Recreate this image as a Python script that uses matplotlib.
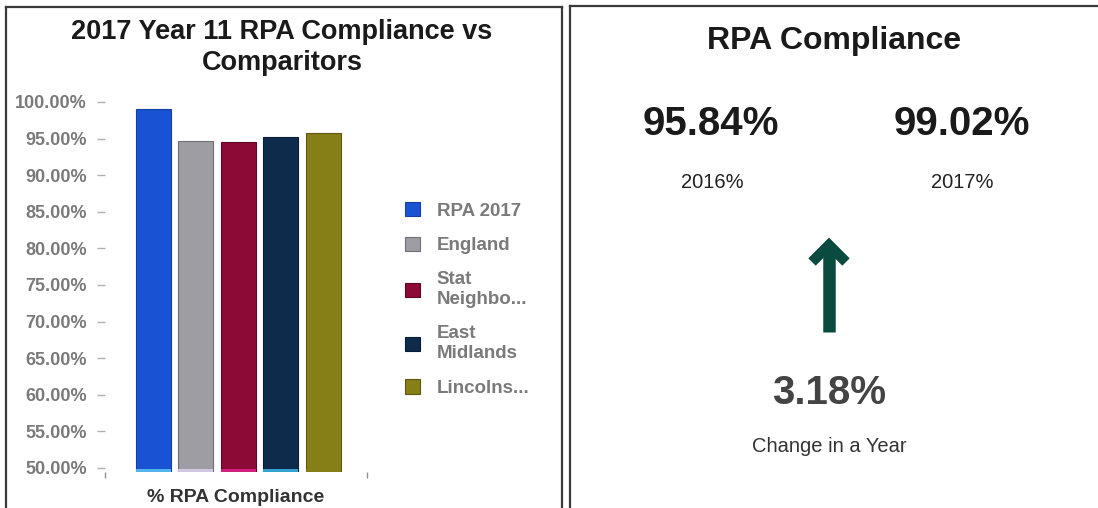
import matplotlib
matplotlib.use("Agg")
import matplotlib.pyplot as plt
from matplotlib.lines import Line2D

plt.rcParams['font.family'] = ['Liberation Sans', 'DejaVu Sans']

# ---- data ----
categories = ["RPA 2017", "England", "Stat\nNeighbo...", "East\nMidlands", "Lincolns..."]
values = [99.02, 94.67, 94.53, 95.26, 95.7]
bar_colors = ["#1a52d4", "#9e9da3", "#8c0b36", "#0f2b4c", "#867e17"]
edge_colors = ["#1340a8", "#6f6e74", "#5e0624", "#0a1c33", "#5e5810"]
base_tints = ["#5ec8f0", "#d8d0ec", "#e0248a", "#3cb8e8", "#867e17"]
yticks = [50, 55, 60, 65, 70, 75, 80, 85, 90, 95, 100]
ytick_labels = ["%.2f%%" % t for t in yticks]

kpi_title = "RPA Compliance"
kpi_2016 = 95.84
kpi_2017 = 99.02
kpi_labels = ["2016%", "2017%"]
kpi_change = 3.18
kpi_change_label = "Change in a Year"

W, H = 1098, 508
fig = plt.figure(figsize=(W / 100, H / 100), dpi=100)

def fx(px):
    return px / W

def fy(py):
    return 1 - py / H

# ---- panel frames ----
frame_kw = dict(color="#3a3a3a", lw=1.6, transform=fig.transFigure)
fig.add_artist(Line2D([fx(6), fx(6)], [fy(7), fy(510)], **frame_kw))
fig.add_artist(Line2D([fx(6), fx(562)], [fy(7), fy(7)], **frame_kw))
fig.add_artist(Line2D([fx(562), fx(562)], [fy(7), fy(510)], **frame_kw))
fig.add_artist(Line2D([fx(570), fx(570)], [fy(6), fy(510)], **frame_kw))
fig.add_artist(Line2D([fx(570), fx(1100)], [fy(6), fy(6)], **frame_kw))

# ---- left bar chart ----
ax_l, ax_r, ax_t, ax_b = 105, 367, 102, 472
ax = fig.add_axes([fx(ax_l), fy(ax_b), fx(ax_r - ax_l), (ax_b - ax_t) / H])
ymin = 49.45
ax.set_ylim(ymin, 100)
ax.set_xlim(-1.13, 5.02)
x = list(range(len(categories)))
bars = ax.bar(x, [v - ymin for v in values], bottom=ymin, width=0.82,
              color=bar_colors, edgecolor=edge_colors, linewidth=0.8)
# light scanner tint at the base of each bar
ax.bar(x, [0.45] * len(x), bottom=ymin, width=0.82, color=base_tints,
       linewidth=0, alpha=0.85)
for s in ax.spines.values():
    s.set_visible(False)
ax.set_yticks(yticks)
ax.set_yticklabels(ytick_labels)
ax.tick_params(axis="y", length=6, width=1, color="#b0b0b0", pad=7,
               labelsize=13, labelcolor="#7a7a7a")
for lab in ax.get_yticklabels():
    lab.set_fontweight("bold")
ax.set_xticks([-1.13, 5.02])
ax.set_xticklabels([])
ax.tick_params(axis="x", length=4, width=1, color="#909090")
ax.set_xlabel("% RPA Compliance", fontsize=14, fontweight="bold",
              color="#333333", labelpad=5)
for t in ax.get_yticklabels():
    t.set_clip_on(False)

leg = fig.legend(bars, categories, loc="upper left",
                 bbox_to_anchor=(fx(405), fy(202)), frameon=False,
                 fontsize=13.5, labelcolor="#7a7a7a", handlelength=0.8,
                 handleheight=0.8, labelspacing=0.9, handletextpad=0.9,
                 borderaxespad=0, borderpad=0)
for t in leg.get_texts():
    t.set_fontweight("bold")
    t.set_linespacing(1.25)

fig.text(fx(282), fy(47), "2017 Year 11 RPA Compliance vs\nComparitors",
         ha="center", va="center", fontsize=19.5, fontweight="bold",
         color="#1a1a1a", linespacing=1.25)

# ---- right KPI panel ----
fig.text(fx(834), fy(41), kpi_title, ha="center", va="center",
         fontsize=23, fontweight="bold", color="#1a1a1a")
fig.text(fx(711), fy(124), "%.2f%%" % kpi_2016, ha="center", va="center",
         fontsize=29, fontweight="bold", color="#1a1a1a")
fig.text(fx(962), fy(124), "%.2f%%" % kpi_2017, ha="center", va="center",
         fontsize=29, fontweight="bold", color="#1a1a1a")
fig.text(fx(712), fy(182), kpi_labels[0], ha="center", va="center",
         fontsize=14.5, color="#222222")
fig.text(fx(962), fy(182), kpi_labels[1], ha="center", va="center",
         fontsize=14.5, color="#222222")

arrow_color = "#0b4a3e"
fig.add_artist(Line2D([fx(829), fx(829)], [fy(332), fy(250)],
                      color=arrow_color, lw=9, solid_capstyle="butt",
                      transform=fig.transFigure))
fig.add_artist(Line2D([fx(812), fx(829), fx(846)], [fy(262), fy(245), fy(262)],
                      color=arrow_color, lw=7.5, solid_capstyle="butt",
                      solid_joinstyle="miter", transform=fig.transFigure))

fig.text(fx(829), fy(393), "%.2f%%" % kpi_change, ha="center", va="center",
         fontsize=29, fontweight="bold", color="#444444")
fig.text(fx(829), fy(446), kpi_change_label, ha="center", va="center",
         fontsize=14.5, color="#333333")

fig.savefig("out.png", dpi=100)
